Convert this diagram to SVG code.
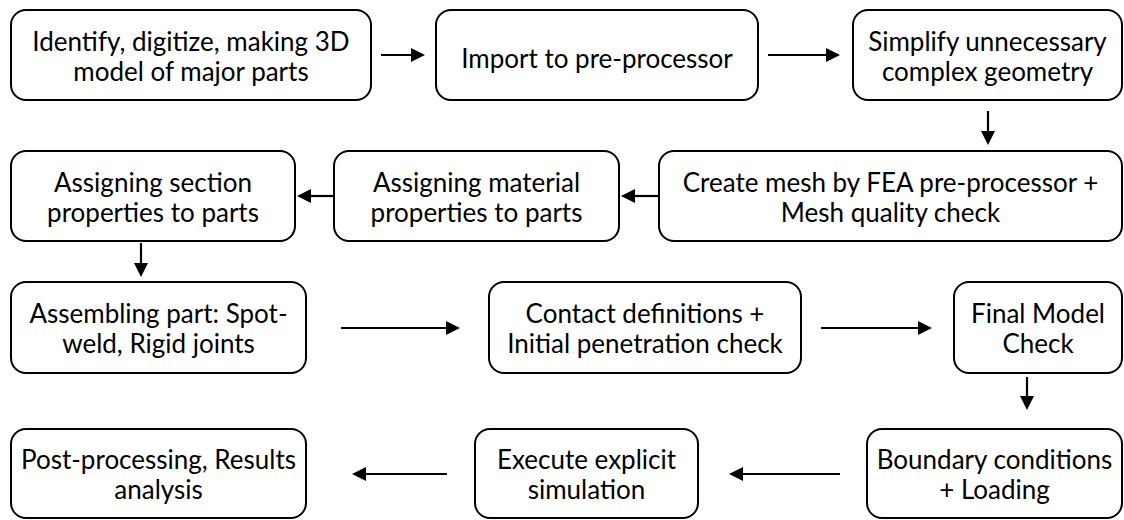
<svg xmlns="http://www.w3.org/2000/svg" width="1124" height="520" viewBox="0 0 1124 520">
<style>
.box{fill:#fff;stroke:#000;stroke-width:2}
.lbl{font-family:Lato,"Open Sans","Liberation Sans",sans-serif;font-size:26px;fill:#000;text-anchor:middle}
.conn{fill:none;stroke:#000;stroke-width:2.2}
</style>
<defs>
<marker id="ah" viewBox="0 0 14 14" markerWidth="14" markerHeight="14" refX="3" refY="7" orient="auto" markerUnits="userSpaceOnUse">
<path d="M0,0 L14,7 L0,14 z" fill="#000"/>
</marker>
</defs>
<rect width="1124" height="520" fill="#fff"/>
<g id="connectors">
<path class="conn" marker-end="url(#ah)" d="M381,55 L414,55"/>
<path class="conn" marker-end="url(#ah)" d="M768,55 L829,55"/>
<path class="conn" marker-end="url(#ah)" d="M988,111 L988,134"/>
<path class="conn" marker-end="url(#ah)" d="M659,196 L632,196"/>
<path class="conn" marker-end="url(#ah)" d="M334,196 L308,196"/>
<path class="conn" marker-end="url(#ah)" d="M141,243 L141,266"/>
<path class="conn" marker-end="url(#ah)" d="M341,328 L449,328"/>
<path class="conn" marker-end="url(#ah)" d="M821,328 L921,328"/>
<path class="conn" marker-end="url(#ah)" d="M1027,377 L1027,399"/>
<path class="conn" marker-end="url(#ah)" d="M840,474 L740,474"/>
<path class="conn" marker-end="url(#ah)" d="M447,474 L363,474"/>
</g>
<g id="n1"><rect class="box" x="11" y="10" width="360" height="90" rx="15"/><text class="lbl" x="191" y="51">Identify, digitize, making 3D</text><text class="lbl" x="191" y="81">model of major parts</text></g>
<g id="n2"><rect class="box" x="436" y="10" width="322" height="90" rx="15"/><text class="lbl" x="597" y="68">Import to pre-processor</text></g>
<g id="n3"><rect class="box" x="853" y="10" width="269" height="90" rx="15"/><text class="lbl" x="987.5" y="51">Simplify unnecessary</text><text class="lbl" x="987.5" y="81">complex geometry</text></g>
<g id="n4"><rect class="box" x="11" y="151" width="284" height="90" rx="15"/><text class="lbl" x="153" y="192">Assigning section</text><text class="lbl" x="153" y="222">properties to parts</text></g>
<g id="n5"><rect class="box" x="334" y="151" width="285" height="90" rx="15"/><text class="lbl" x="476.5" y="192">Assigning material</text><text class="lbl" x="476.5" y="222">properties to parts</text></g>
<g id="n6"><rect class="box" x="659" y="151" width="463" height="90" rx="15"/><text class="lbl" x="890.5" y="192">Create mesh by FEA pre-processor +</text><text class="lbl" x="890.5" y="222">Mesh quality check</text></g>
<g id="n7"><rect class="box" x="11" y="282" width="295" height="91" rx="15"/><text class="lbl" x="158.5" y="323">Assembling part: Spot-</text><text class="lbl" x="158.5" y="353">weld, Rigid joints</text></g>
<g id="n8"><rect class="box" x="489" y="282" width="312" height="91" rx="15"/><text class="lbl" x="645" y="323">Contact definitions +</text><text class="lbl" x="645" y="353">Initial penetration check</text></g>
<g id="n9"><rect class="box" x="954" y="282" width="168" height="91" rx="15"/><text class="lbl" x="1038" y="323">Final Model</text><text class="lbl" x="1038" y="353">Check</text></g>
<g id="n10"><rect class="box" x="11" y="429" width="295" height="89" rx="15"/><text class="lbl" x="158.5" y="469">Post-processing, Results</text><text class="lbl" x="158.5" y="499">analysis</text></g>
<g id="n11"><rect class="box" x="475" y="429" width="223" height="89" rx="15"/><text class="lbl" x="586.5" y="469">Execute explicit</text><text class="lbl" x="586.5" y="499">simulation</text></g>
<g id="n12"><rect class="box" x="867" y="429" width="255" height="89" rx="15"/><text class="lbl" x="994.5" y="469">Boundary conditions</text><text class="lbl" x="994.5" y="499">+ Loading</text></g>
</svg>
